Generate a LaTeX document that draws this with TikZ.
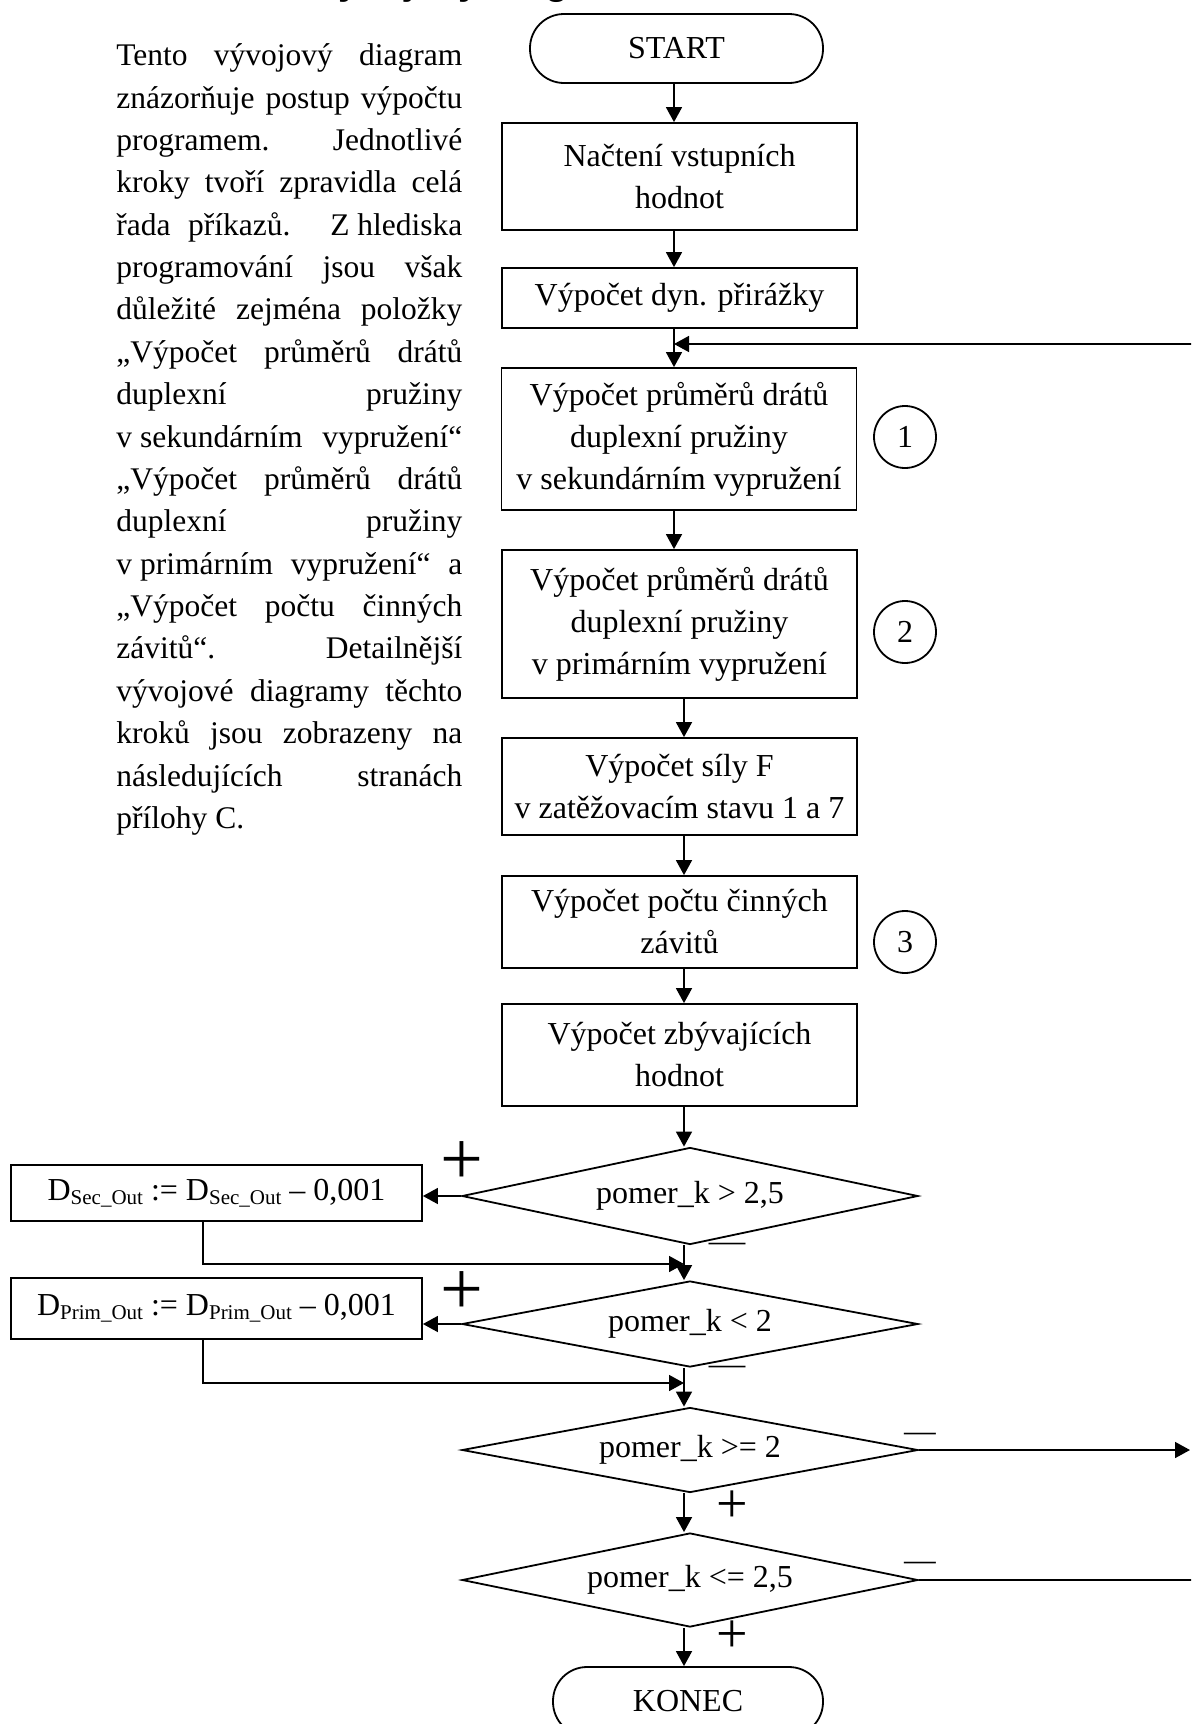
\documentclass[tikz,border=0pt]{standalone}
\usepackage{graphicx}
\usepackage{fontspec}
\setmainfont{Liberation Serif}
\newfontfamily\titlefam{Liberation Sans}
\usetikzlibrary{arrows.meta,shapes.geometric}
\newcommand\flowfont{\fontsize{16}{21}\selectfont}
\newcommand\bodyfont{\fontsize{15.75}{21.2}\selectfont}
\newcommand\subtx[1]{\raisebox{-2pt}{\fontsize{10.5}{11}\selectfont #1}}
\begin{document}
\begin{tikzpicture}[x=0.5pt,y=-0.5pt,
  ln/.style={line width=0.8pt},
  arr/.style={line width=0.8pt,-{Triangle[length=7.5pt,width=8pt]}},
  box/.style={draw,line width=0.9pt,minimum width=177.5pt,align=center,inner sep=0pt,font=\flowfont},
  term/.style={draw,line width=0.9pt,rounded corners=17pt,minimum height=34.5pt,inner sep=0pt,font=\flowfont},
  dia/.style={draw,diamond,aspect=4.7,line width=0.9pt,inner sep=0pt,minimum width=228pt,font=\flowfont},
  num/.style={draw,circle,line width=0.9pt,minimum size=31pt,inner sep=0pt,font=\flowfont},
  bodyline/.style={anchor=base west,inner sep=0pt,font=\bodyfont},
  sign/.style={anchor=base,inner sep=0pt}]
\useasboundingbox (0,0) rectangle (1191,1724);
\fill[white] (0,0) rectangle (1191,1724);
\clip (0,0) rectangle (1191,1724);

% clipped title
\node[anchor=base west,inner sep=0pt,font=\titlefam\bfseries\fontsize{19}{19}\selectfont] (title) at (317,-5) {vývojový diagram};

% body text
\foreach \ltext [count=\i] in {
  {Tento vývojový diagram},
  {znázorňuje postup výpočtu},
  {programem. Jednotlivé},
  {kroky tvoří zpravidla celá},
  {řada příkazů. Z\kern0.25em hlediska},
  {programování jsou však},
  {důležité zejména položky},
  {„Výpočet průměrů drátů},
  {duplexní pružiny},
  {v\kern0.25em sekundárním vypružení“},
  {„Výpočet průměrů drátů},
  {duplexní pružiny},
  {v\kern0.25em primárním vypružení“ a},
  {„Výpočet počtu činných},
  {závitů“. Detailnější},
  {vývojové diagramy těchto},
  {kroků jsou zobrazeny na},
  {následujících stranách}}
  \node[bodyline] (p\i) at (116,{65.7+(\i-1)*42.37}) {\makebox[173pt][s]{\ltext}};
\node[bodyline] (p19) at (116,828.3) {přílohy C.};

% flowchart nodes
\node[term,minimum width=146.5pt] (start) at (676.5,48.5) {START};
\node[box,minimum height=53.5pt] (b1) at (679.5,176.5) {Načtení vstupních\\hodnot};
\node[box,minimum height=30pt] (b2) at (679.5,298) {Výpočet dyn. přirážky};
\node[box,minimum height=71pt] (b3) at (679,439) {Výpočet průměrů drátů\\duplexní pružiny\\v sekundárním vypružení};
\node[num] (n1) at (905,437) {1};
\node[box,minimum height=74pt] (b4) at (679.5,624) {Výpočet průměrů drátů\\duplexní pružiny\\v primárním vypružení};
\node[num] (n2) at (905,632) {2};
\node[box,minimum height=48.5pt] (b5) at (679.5,786.5) {Výpočet síly F\\v zatěžovacím stavu 1 a 7};
\node[box,minimum height=46pt] (b6) at (679.5,922) {Výpočet počtu činných\\závitů};
\node[num] (n3) at (905,942) {3};
\node[box,minimum height=51pt] (b7) at (679.5,1055) {Výpočet zbývajících\\hodnot};
\node[dia,minimum height=48.5pt] (d1) at (690,1196) {pomer\_k > 2,5};
\node[dia,minimum height=43pt] (d2) at (690,1324) {pomer\_k < 2};
\node[dia,minimum height=42.5pt] (d3) at (690,1450) {pomer\_k >= 2};
\node[dia,minimum height=47pt] (d4) at (690,1580) {pomer\_k <= 2,5};
\node[term,minimum width=135pt] (konec) at (688,1701.5) {KONEC};
\node[box,minimum width=205.5pt,minimum height=28pt] (dsec) at (216.5,1193) {D\subtx{Sec\_Out} := D\subtx{Sec\_Out} – 0,001};
\node[box,minimum width=205.5pt,minimum height=30.5pt] (dprim) at (216.5,1308.5) {D\subtx{Prim\_Out} := D\subtx{Prim\_Out} – 0,001};

% branch signs
\node[sign,font=\fontsize{38}{38}\selectfont] (s1) at (462,1184) {+};
\node[sign,font=\fontsize{38}{38}\selectfont] (s2) at (462,1314) {+};
\node[sign,font=\flowfont] (m1) at (727,1251) {\scalebox{2.25}[1]{–}};
\node[sign,font=\flowfont] (m2) at (727,1374) {\scalebox{2.25}[1]{–}};
\node[sign,font=\flowfont] (m3) at (920,1441) {\scalebox{1.95}[1]{–}};
\node[sign,font=\flowfont] (m4) at (920,1570) {\scalebox{1.95}[1]{–}};
\node[sign,font=\fontsize{28}{28}\selectfont] (s3) at (732,1522) {+};
\node[sign,font=\fontsize{28}{28}\selectfont] (s4) at (732,1652) {+};

% connectors
\coordinate (cA) at (674,0);
\coordinate (cB) at (684,0);
\coordinate (cS) at (203,0);
\draw[arr] (start.south -| cA) -- (b1.north -| cA);
\draw[arr] (b1.south -| cA) -- (b2.north -| cA);
\draw[arr] (b2.south -| cA) -- (b3.north -| cA);
\coordinate (fbR) at (1200,344);
\draw[arr] (fbR) -- (fbR -| cA);
\draw[arr] (b3.south -| cA) -- (b4.north -| cA);
\draw[arr] (b4.south -| cB) -- (b5.north -| cB);
\draw[arr] (b5.south -| cB) -- (b6.north -| cB);
\draw[arr] (b6.south -| cB) -- (b7.north -| cB);
\draw[arr] (b7.south -| cB) -- (d1.north -| cB);
\draw[arr] (d1.west) -- (d1.west -| dsec.east);
\coordinate (j1) at (684,1264);
\draw[arr] (dsec.south -| cS) |- (j1);
\draw[arr] (d1.south -| cB) -- (d2.north -| cB);
\draw[arr] (d2.west) -- (d2.west -| dprim.east);
\coordinate (j2) at (684,1383);
\draw[arr] (dprim.south -| cS) |- (j2);
\draw[arr] (d2.south -| cB) -- (d3.north -| cB);
\coordinate (r3) at (1190,1450);
\draw[arr] (d3.east) -- (r3);
\draw[arr] (d3.south -| cB) -- (d4.north -| cB);
\coordinate (r4) at (1200,1577);
\draw[ln] (d4.east) -- (d4.east -| r4);
\draw[arr] (d4.south -| cB) -- (konec.north -| cB);
\end{tikzpicture}
\end{document}
